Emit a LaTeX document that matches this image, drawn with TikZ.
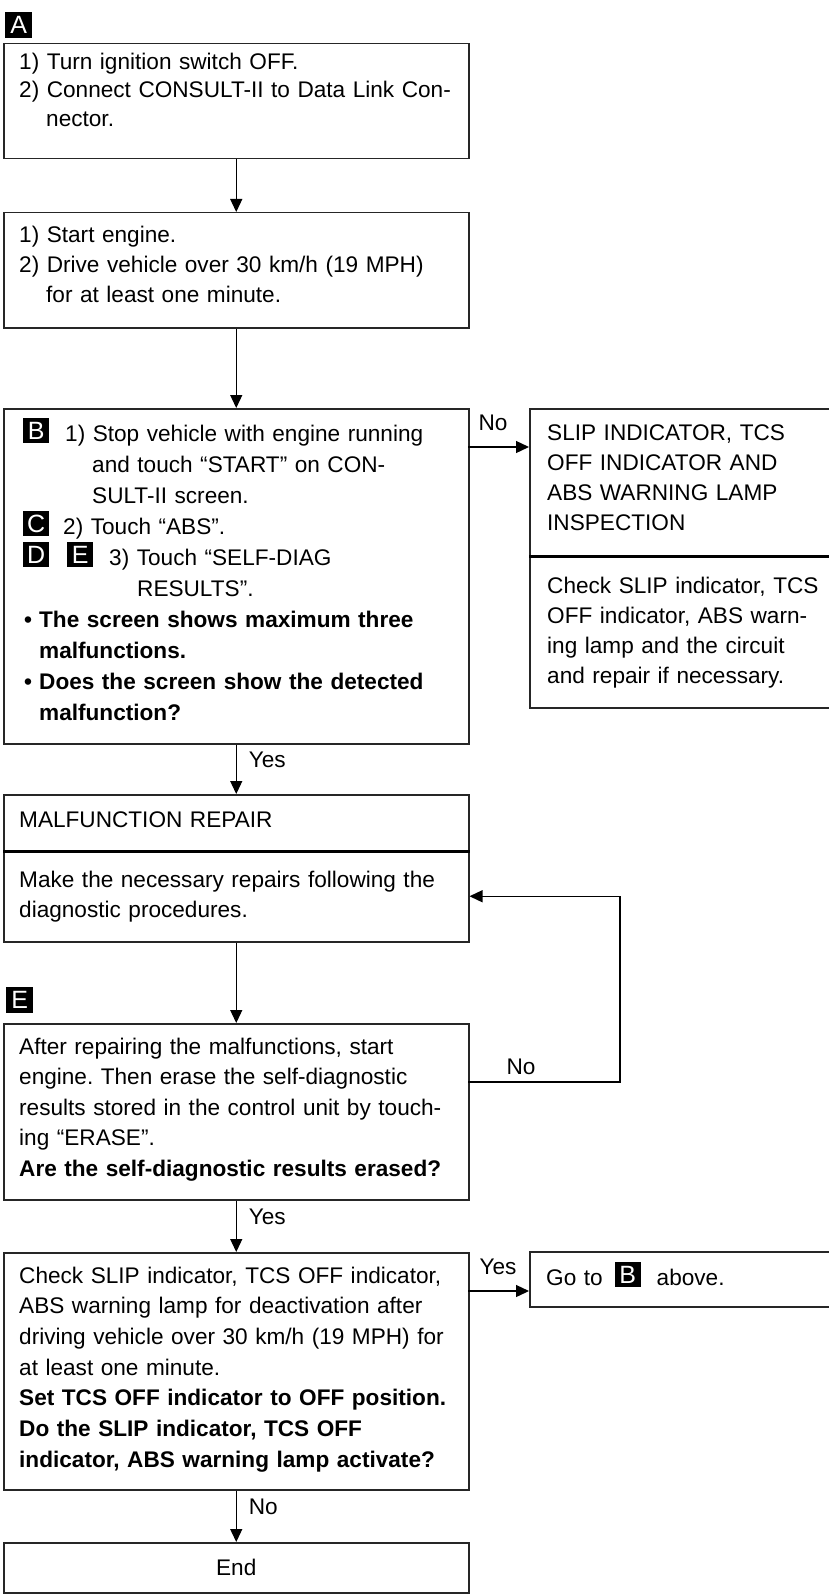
\documentclass[tikz,border=0pt]{standalone}
\usepackage{fontspec}
\setmainfont{Liberation Sans}
\usetikzlibrary{arrows.meta,positioning}
\frenchspacing

% black letter tag inside a text line
\newcommand\tagbox[1]{\raisebox{2pt}{\setlength{\fboxsep}{4pt}\colorbox{black}{\makebox[18pt]{\fontsize{25}{25}\selectfont\color{white}#1}}}}

\begin{document}
\begin{tikzpicture}[
  x=1pt, y=-1pt,
  font=\fontsize{22.6}{30.5}\selectfont,
  box/.style={rectangle, draw=black!85, line width=1.5pt, anchor=north west, inner sep=0},
  txt/.style={anchor=base west, inner sep=0, align=left, text width=480pt},
  tag/.style={fill=black, text=white, inner sep=0, minimum width=27pt, minimum height=26pt, anchor=north west, font=\fontsize{25}{25}\selectfont},
  lbl/.style={inner sep=0},
  flow/.style={line width=1.3pt, -{Triangle[length=13pt,width=12pt]}},
  divider/.style={line width=2.6pt}
]
\useasboundingbox (0,0) rectangle (828,1594);

% Hauptspalte
\node[tag] (tagA) at (5,12) {A};
\node[box, minimum width=465pt, minimum height=115pt] (s1) at (3,43) {};
\node[txt, font=\fontsize{22.6}{28.3}\selectfont] (t1) at (19,69.5)
  {1) Turn ignition switch OFF.\\
   2) Connect CONSULT-II to Data Link Con-\\
   \hspace*{27pt}nector.};

\node[box, minimum width=465pt, minimum height=115pt] (s2) at (3,212) {};
\node[txt, font=\fontsize{22.6}{30}\selectfont] (t2) at (19,243)
  {1) Start engine.\\
   2) Drive vehicle over 30 km/h (19 MPH)\\
   \hspace*{27pt}for at least one minute.};

\node[box, minimum width=465pt, minimum height=335pt] (s3) at (3,408) {};
\node[txt, font=\fontsize{22.6}{31}\selectfont] (t3) at (18,441)
  {\makebox[47pt][l]{\hspace*{5pt}\tagbox{B}}1) Stop vehicle with engine running\\
   \hspace*{74pt}and touch “START” on CON-\\
   \hspace*{74pt}SULT-II screen.\\
   \makebox[45pt][l]{\hspace*{5pt}\tagbox{C}}2) Touch “ABS”.\\
   \makebox[49pt][l]{\hspace*{5pt}\tagbox{D}}\makebox[42pt][l]{\tagbox{E}}3) Touch “SELF-DIAG\\
   \hspace*{119pt}RESULTS”.\\
   \textbf{\makebox[21pt][l]{\hspace*{6pt}\textbullet}The screen shows maximum three}\\
   \textbf{\hspace*{21pt}malfunctions.}\\
   \textbf{\makebox[21pt][l]{\hspace*{6pt}\textbullet}Does the screen show the detected}\\
   \textbf{\hspace*{21pt}malfunction?}};

% Inspektion rechts
\node[box, minimum width=311pt, minimum height=147pt] (r1a) at (529,408) {};
\node[box, minimum width=311pt, minimum height=152pt] (r1b) at (529,555) {};
\draw[divider] (r1a.south west) -- (r1a.south east);
\node[txt, font=\fontsize{22.6}{30.3}\selectfont] (t4) at (547,440)
  {SLIP INDICATOR, TCS\\OFF INDICATOR AND\\ABS WARNING LAMP\\INSPECTION};
\node[txt, font=\fontsize{22.6}{30}\selectfont] (t5) at (547,593)
  {Check SLIP indicator, TCS\\OFF indicator, ABS warn-\\ing lamp and the circuit\\and repair if necessary.};

% Reparatur
\node[box, minimum width=465pt, minimum height=56pt] (m1a) at (3,794) {};
\node[box, minimum width=465pt, minimum height=91pt] (m1b) at (3,850) {};
\draw[divider] (m1a.south west) -- (m1a.south east);
\node[txt] (t6) at (19,827) {MALFUNCTION REPAIR};
\node[txt, font=\fontsize{22.6}{30}\selectfont] (t7) at (19,887)
  {Make the necessary repairs following the\\diagnostic procedures.};

\node[tag] (tagE) at (6,987) {E};
\node[box, minimum width=465pt, minimum height=176pt] (s5) at (3,1023) {};
\node[txt] (t8) at (19,1054)
  {After repairing the malfunctions, start\\
   engine. Then erase the self-diagnostic\\
   results stored in the control unit by touch-\\
   ing “ERASE”.\\
   \textbf{Are the self-diagnostic results erased?}};

\node[box, minimum width=465pt, minimum height=237pt] (s6) at (3,1252) {};
\node[txt, font=\fontsize{22.6}{30.7}\selectfont] (t9) at (19,1283)
  {Check SLIP indicator, TCS OFF indicator,\\
   ABS warning lamp for deactivation after\\
   driving vehicle over 30 km/h (19 MPH) for\\
   at least one minute.\\
   \textbf{Set TCS OFF indicator to OFF position.}\\
   \textbf{Do the SLIP indicator, TCS OFF}\\
   \textbf{indicator, ABS warning lamp activate?}};

\node[box, minimum width=311pt, minimum height=55pt] (r2) at (529,1251) {};
\node[txt] (t10) at (546,1285) {Go to\hspace{12pt}\tagbox{B}\hspace{16pt}above.};

\node[box, minimum width=465pt, minimum height=50pt] (s7) at (3,1542) {End};

% Verbindungen
\coordinate (noB) at (468,447);
\coordinate (eNo) at (468,1082);
\coordinate (yesC) at (468,1291);

\foreach \a/\b in {s1/s2, s2/s3, m1b/s5} {
  \draw[flow] (\a.south) -- (\b.north);
}
\draw[flow] (s3.south) -- node[lbl, at start, below right=7pt and 12pt] {Yes} (m1a.north);
\draw[flow] (s5.south) -- node[lbl, at start, below right=8pt and 12pt] {Yes} (s6.north);
\draw[flow] (s6.south) -- node[lbl, at start, below right=8pt and 12pt] {No} (s7.north);
\draw[flow] (noB) -- node[lbl, at start, above right=16pt and 10pt] {No} (noB -| r1a.west);
\draw[flow] (yesC) -- node[lbl, at start, above right=16pt and 11pt] {Yes} (yesC -| r2.west);
\draw[flow] (eNo) -- node[lbl, at start, above right=7pt and 38pt] {No} ++(152,0) |- (m1b.east);
\end{tikzpicture}
\end{document}
